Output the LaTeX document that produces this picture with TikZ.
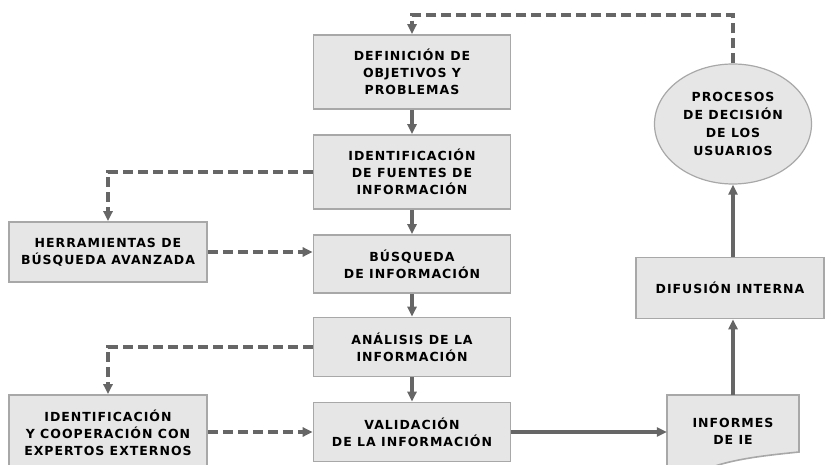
\documentclass[tikz,border=0pt]{standalone}
\usepackage{fontspec}
\setmainfont{DejaVu Sans}[LetterSpace=8]
\usetikzlibrary{arrows.meta,shapes.geometric}
\definecolor{boxfill}{HTML}{E6E6E6}
\definecolor{boxline}{HTML}{A8A8A8}
\definecolor{flow}{HTML}{666666}
\begin{document}
\begin{tikzpicture}[x=1pt,y=-1pt,
  labelfont/.style={font=\bfseries\fontsize{12.5}{17}\selectfont},
  stepbox/.style={draw=boxline,line width=1.6pt,fill=boxfill,align=center,
    inner sep=0pt,labelfont},
  flowarrow/.style={draw=flow,line width=3.5pt,
    -{Triangle[length=10pt,width=9pt]}},
  dasharrow/.style={flowarrow,dash pattern=on 10pt off 5pt}]
\useasboundingbox (0,0) rectangle (825,465);

% main column
\node[stepbox,minimum width=197,minimum height=74] (def) at (412,72)
  {DEFINICIÓN DE\\OBJETIVOS Y\\PROBLEMAS};
\node[stepbox,minimum width=197,minimum height=74] (fue) at (412,172)
  {IDENTIFICACIÓN\\DE FUENTES DE\\INFORMACIÓN};
\node[stepbox,minimum width=197,minimum height=58] (bus) at (412,264)
  {BÚSQUEDA\\DE INFORMACIÓN};
\node[stepbox,minimum width=197,minimum height=59] (ana) at (412,347)
  {ANÁLISIS DE LA\\INFORMACIÓN};
\node[stepbox,minimum width=197,minimum height=59] (val) at (412,432)
  {VALIDACIÓN\\DE LA INFORMACIÓN};

% side boxes
\node[stepbox,minimum width=198,minimum height=60] (her) at (108,252)
  {HERRAMIENTAS DE\\BÚSQUEDA AVANZADA};
\node[stepbox,minimum width=198,minimum height=76] (exp) at (108,433)
  {IDENTIFICACIÓN\\Y COOPERACIÓN CON\\EXPERTOS EXTERNOS};

% right column
\node[stepbox,minimum width=188,minimum height=61] (dif) at (730,288)
  {DIFUSIÓN INTERNA};
\path[draw=boxline,line width=1.6pt,fill=boxfill]
  (667,395) -- (799,395) -- (799,452)
  .. controls (770,455) and (740,458) .. (715,466)
  -- (667,470) -- cycle;
\node[labelfont,align=center,minimum width=132,minimum height=72,
  inner sep=0pt] (inf) at (733,431) {INFORMES\\DE IE};
\node[draw=boxline,line width=1.2pt,fill=boxfill,ellipse,
  minimum width=157,minimum height=120,inner sep=0pt,align=center,
  font=\bfseries\fontsize{12.5}{18}\selectfont] (dec) at (733,124)
  {PROCESOS\\DE DECISIÓN\\DE LOS\\USUARIOS};

% solid flow
\draw[flowarrow] (def) -- (fue);
\draw[flowarrow] (fue) -- (bus);
\draw[flowarrow] (bus) -- (ana);
\draw[flowarrow] (ana) -- (val);
\draw[flowarrow] (val.east) -- (val.east -| inf.west);
\draw[flowarrow] (inf.north) -- (inf.north |- dif.south);
\draw[flowarrow] (dif.north -| dec.south) -- (dec.south);

% dashed feedback and support
\coordinate (top) at (733,15);
\draw[dasharrow] (dec.north) -- (top) -| (def.north);
\draw[dasharrow] (fue.west) -| (her.north);
\draw[dasharrow] (her.east) -- (her.east -| bus.west);
\draw[dasharrow] (ana.west) -| (exp.north);
\draw[dasharrow] (exp.east |- val.west) -- (val.west);
\end{tikzpicture}
\end{document}
